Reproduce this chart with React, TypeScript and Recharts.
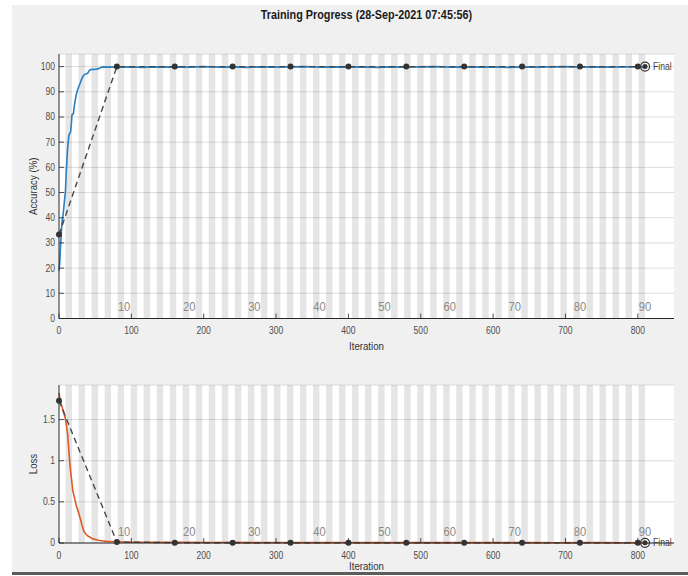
import {
  ComposedChart,
  Line,
  XAxis,
  YAxis,
  CartesianGrid,
  ReferenceArea,
  ReferenceDot,
} from "recharts";

// axes
const iterTicks = [0, 100, 200, 300, 400, 500, 600, 700, 800];
const accTicks = [0, 10, 20, 30, 40, 50, 60, 70, 80, 90, 100];
const lossTicks = [0, 0.5, 1, 1.5];
const epochLabels = [10, 20, 30, 40, 50, 60, 70, 80, 90];
const itersPerEpoch = 9;
const numEpochs = 90;
const iterMax = 850;

// training accuracy (%)
const accIter = [
  0, 1, 2, 3, 4, 5, 6, 7, 8, 9, 10, 11, 12, 13, 14, 15, 16, 17, 18, 19, 20, 21,
  22, 23, 24, 25, 26, 28, 30, 32, 34, 36, 38, 40, 42, 44, 48, 52, 56, 59, 62,
  66, 70, 75, 80, 90, 100, 115, 130, 145, 160, 180, 200, 220, 240, 260, 280,
  300, 320, 340, 360, 380, 400, 420, 440, 460, 480, 500, 520, 540, 560, 580,
  600, 620, 640, 660, 680, 700, 720, 740, 760, 780, 800, 810,
];
const accTrain = [
  19, 22, 28, 33, 38, 40, 42, 45, 48, 51, 58, 63, 68, 71, 73, 73.5, 74, 77, 81,
  81, 81.5, 84, 86, 87.5, 89, 90, 91, 92.5, 94, 95.5, 96.5, 97, 97.2, 97.5,
  98.5, 98.8, 98.9, 99, 99.3, 99.8, 99.9, 99.8, 99.9, 99.8, 99.9, 99.8, 99.9,
  99.7, 99.9, 99.8, 99.9, 99.8, 100, 99.8, 99.9, 99.7, 99.9, 99.8, 99.9, 100,
  99.8, 99.9, 99.8, 99.9, 99.7, 99.9, 99.8, 99.9, 100, 99.8, 99.9, 99.8, 99.9,
  99.7, 99.9, 99.8, 99.9, 100, 99.8, 99.9, 99.8, 99.9, 99.9, 99.9,
];

// validation
const valIter = [0, 80, 160, 240, 320, 400, 480, 560, 640, 720, 800];
const accVal = [33.3, 100, 100, 100, 100, 100, 100, 100, 100, 100, 100];
const lossVal = [1.73, 0.012, 0.004, 0.003, 0.002, 0.002, 0.002, 0.002, 0.002, 0.002, 0.002];
const finalIter = 810;
const finalAcc = 100;
const finalLoss = 0.002;

// training loss
const lossIter = [
  0, 2, 4, 6, 8, 10, 12, 13, 14, 15, 16, 17, 18, 19, 20, 22, 24, 26, 28, 30,
  32, 34, 36, 38, 40, 43, 47, 52, 56, 61, 66, 72, 80, 90, 100, 120, 150, 180,
  210, 240, 270, 300, 330, 360, 390, 420, 450, 480, 510, 540, 570, 600, 630,
  660, 690, 720, 750, 780, 810,
];
const lossTrain = [
  1.82, 1.72, 1.66, 1.6, 1.54, 1.45, 1.32, 1.2, 1.08, 0.97, 0.88, 0.8, 0.72,
  0.64, 0.6, 0.53, 0.45, 0.4, 0.34, 0.28, 0.21, 0.15, 0.12, 0.1, 0.085, 0.07,
  0.05, 0.04, 0.03, 0.025, 0.02, 0.018, 0.015, 0.012, 0.01, 0.009, 0.008,
  0.007, 0.006, 0.007, 0.005, 0.006, 0.005, 0.004, 0.006, 0.005, 0.004,
  0.005, 0.004, 0.005, 0.004, 0.004, 0.005, 0.004, 0.003, 0.004, 0.004,
  0.003, 0.004,
];

const accTrainData = accIter.map((it, i) => ({ it, v: accTrain[i] }));
const accValData = valIter.map((it, i) => ({ it, v: accVal[i] }));
const lossTrainData = lossIter.map((it, i) => ({ it, v: lossTrain[i] }));
const lossValData = valIter.map((it, i) => ({ it, v: lossVal[i] }));

// every second epoch is shaded
const shadedEpochs = Array.from({ length: numEpochs / 2 }, (_, i) => 2 * (i + 1));

const FONT = '"Liberation Sans Narrow", "Liberation Sans", Arial, sans-serif';
const AXIS = "#262626";
const TICKTXT = "#4d4d4d";

// liberation narrow isn't there, so squeeze the regular face a bit
const squeeze = (x: number, k = 0.86) =>
  `translate(${x} 0) scale(${k} 1) translate(${-x} 0)`;

function IterTick(props: any) {
  const { x, y, payload } = props;
  return (
    <g>
      <line x1={x} x2={x} y1={y} y2={y - 5} stroke={AXIS} strokeWidth={0.8} />
      <text x={x} y={y + 16} textAnchor="middle" fontSize={10} fill={TICKTXT} transform={squeeze(x)}>
        {payload.value}
      </text>
    </g>
  );
}

function ValueTick(props: any) {
  const { x, y, payload } = props;
  const tx = x - 4;
  return (
    <g>
      <line x1={x} x2={x + 5} y1={y} y2={y} stroke={AXIS} strokeWidth={0.8} />
      <text x={tx} y={y} dy="0.35em" textAnchor="end" fontSize={10} fill={TICKTXT} transform={squeeze(tx)}>
        {String(payload.value)}
      </text>
    </g>
  );
}

function EpochLabel(props: any) {
  const { cx, cy, label } = props;
  return (
    <text x={cx} y={cy - 7} textAnchor="middle" fontSize={13} fill="#8a8a8a" transform={squeeze(cx)}>
      {label}
    </text>
  );
}

function FinalMark(props: any) {
  const { cx, cy } = props;
  const tx = cx + 8;
  return (
    <g>
      <circle cx={cx} cy={cy} r={4.5} fill="none" stroke="#333" strokeWidth={1.2} />
      <circle cx={cx} cy={cy} r={2.5} fill="#333" />
      <text x={tx} y={cy} dy="0.35em" fontSize={10} fill="#444" transform={squeeze(tx)}>
        Final
      </text>
    </g>
  );
}

function ValDot(props: any) {
  const { cx, cy } = props;
  return <circle cx={cx} cy={cy} r={3} fill="#333" stroke="none" />;
}

const yTitle = (text: string) => (props: any) => {
  const vb = props.viewBox;
  const cx = vb.x + 33;
  const cy = vb.y + vb.height / 2;
  return (
    <text
      x={cx}
      y={cy}
      dy="0.35em"
      transform={`rotate(-90 ${cx} ${cy}) ${squeeze(cx, 0.88)}`}
      textAnchor="middle"
      fontSize={11}
      fill="#333"
    >
      {text}
    </text>
  );
};

const xTitle = (props: any) => {
  const vb = props.viewBox;
  const cx = vb.x + vb.width / 2;
  return (
    <text x={cx} y={vb.y + vb.height - 2} textAnchor="middle" fontSize={11} fill="#333" transform={squeeze(cx, 0.88)}>
      Iteration
    </text>
  );
};

function Panel({
  top,
  height,
  margin,
  axisHeight,
  yDomain,
  yTicks,
  yLabel,
  train,
  val,
  color,
  finalValue,
}: any) {
  return (
    <div style={{ position: "absolute", left: 0, top }}>
      <ComposedChart width={688} height={height} margin={margin}>
        <CartesianGrid vertical={false} stroke="#d4d4d4" strokeWidth={0.8} fill="#ffffff" fillOpacity={1} />
        {shadedEpochs.map((e) => (
          <ReferenceArea
            key={e}
            x1={(e - 1) * itersPerEpoch}
            x2={e * itersPerEpoch}
            fill="#000000"
            fillOpacity={0.1}
            stroke="none"
            ifOverflow="hidden"
          />
        ))}
        <XAxis
          dataKey="it"
          type="number"
          domain={[0, iterMax]}
          ticks={iterTicks}
          tickLine={false}
          tickSize={0}
          tickMargin={0}
          tick={<IterTick />}
          axisLine={{ stroke: AXIS, strokeWidth: 1 }}
          height={axisHeight}
          label={xTitle}
        />
        <YAxis
          type="number"
          domain={yDomain}
          ticks={yTicks}
          tickLine={false}
          tickSize={0}
          tickMargin={0}
          tick={<ValueTick />}
          axisLine={{ stroke: AXIS, strokeWidth: 1 }}
          width={59}
          label={yTitle(yLabel)}
        />
        {epochLabels.map((e) => (
          <ReferenceDot
            key={e}
            x={e * itersPerEpoch}
            y={0}
            r={0}
            ifOverflow="visible"
            shape={(p: any) => <EpochLabel {...p} label={e} />}
          />
        ))}
        <Line
          data={train}
          dataKey="v"
          type="linear"
          stroke={color}
          strokeWidth={1.6}
          dot={false}
          isAnimationActive={false}
        />
        <Line
          data={val}
          dataKey="v"
          type="linear"
          stroke="#474747"
          strokeWidth={1.4}
          strokeDasharray="6 4"
          dot={<ValDot />}
          isAnimationActive={false}
        />
        <ReferenceDot
          x={finalIter}
          y={finalValue}
          r={0}
          ifOverflow="visible"
          shape={(p: any) => <FinalMark {...p} />}
        />
      </ComposedChart>
    </div>
  );
}

export default function App() {
  return (
    <div
      style={{
        position: "absolute",
        left: 0,
        top: 0,
        width: 688,
        height: 576,
        background: "#ffffff",
        fontFamily: FONT,
        overflow: "hidden",
      }}
    >
      <div style={{ position: "absolute", left: 12, top: 5, width: 676, height: 567, background: "#f0f0f0" }} />
      <div style={{ position: "absolute", left: 12, top: 572, width: 676, height: 3, background: "#5c5c5c" }} />
      <div
        style={{
          position: "absolute",
          left: 59,
          width: 615,
          top: 8,
          textAlign: "center",
          fontSize: 12,
          lineHeight: "14px",
          fontWeight: "bold",
          color: "#1a1a1a",
          transform: "scaleX(0.9)",
          transformOrigin: "307px 0",
        }}
      >
        Training Progress (28-Sep-2021 07:45:56)
      </div>
      <Panel
        top={0}
        height={360}
        margin={{ top: 54, right: 14, bottom: 7.5, left: 0 }}
        axisHeight={34}
        yDomain={[0, 105]}
        yTicks={accTicks}
        yLabel="Accuracy (%)"
        train={accTrainData}
        val={accValData}
        color="#2a7fc0"
        finalValue={finalAcc}
      />
      <Panel
        top={360}
        height={212}
        margin={{ top: 25, right: 14, bottom: 0, left: 0 }}
        axisHeight={29}
        yDomain={[0, 1.92]}
        yTicks={lossTicks}
        yLabel="Loss"
        train={lossTrainData}
        val={lossValData}
        color="#dc5a24"
        finalValue={finalLoss}
      />
    </div>
  );
}
